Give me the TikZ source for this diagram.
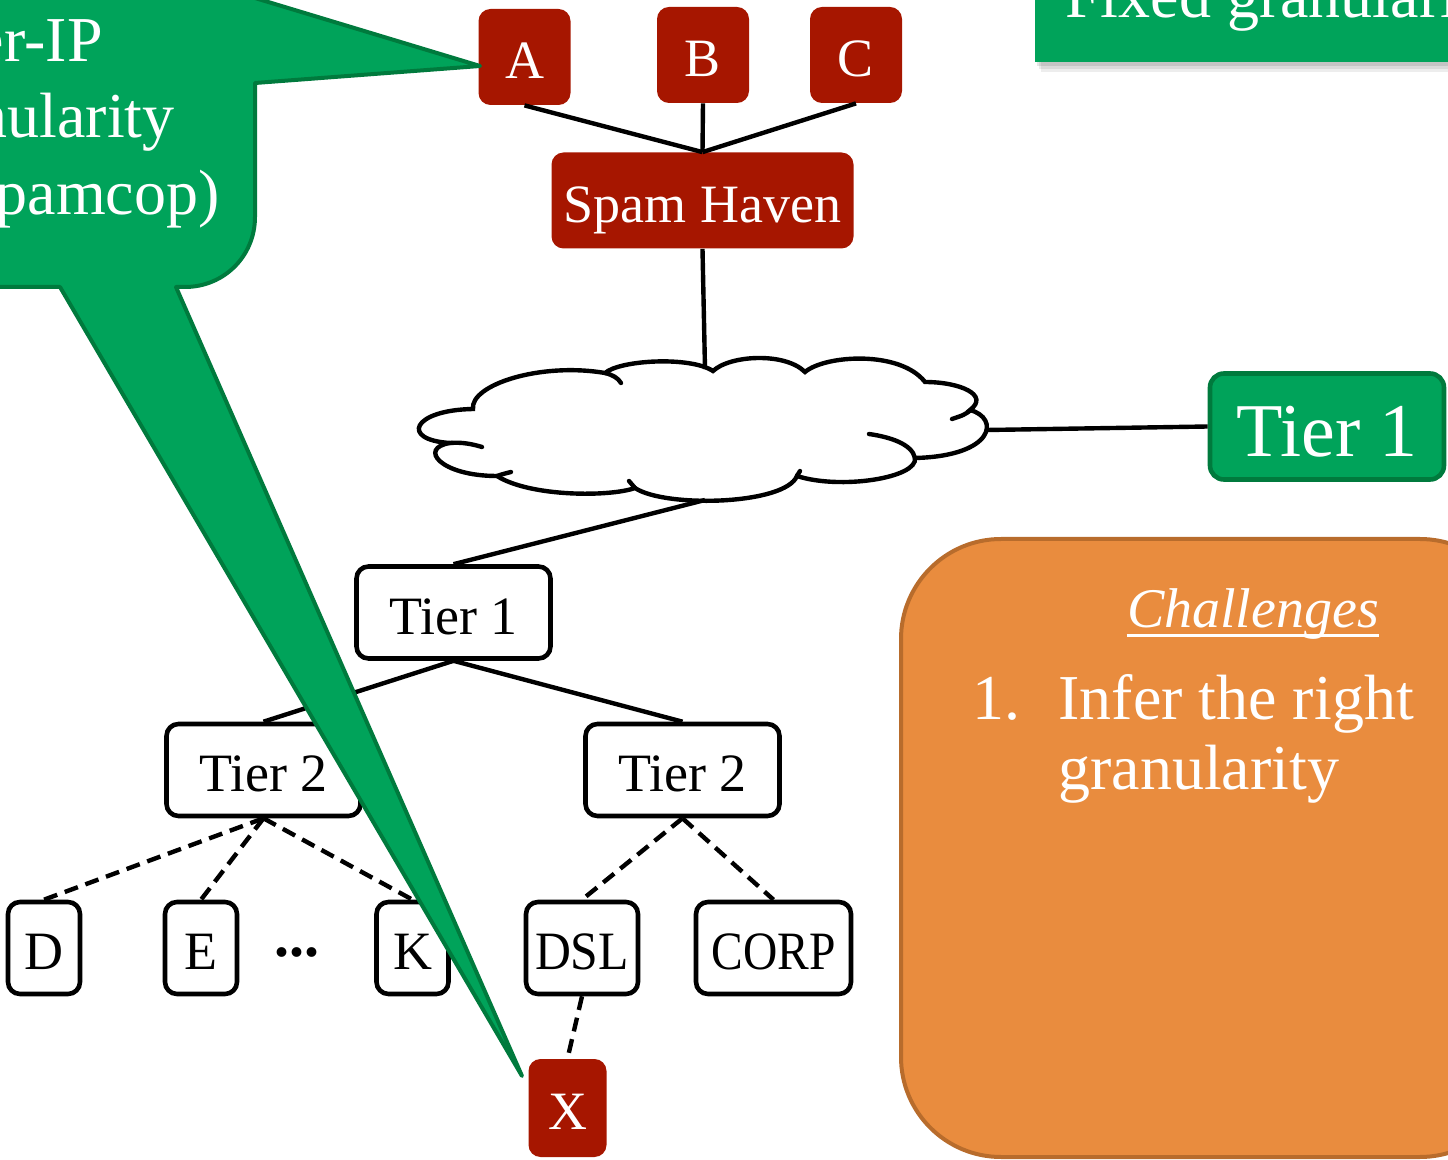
\documentclass[tikz,border=0pt]{standalone}
\usepackage{fontspec}
\usepackage{graphicx}
\setmainfont{Liberation Serif}
\definecolor{myred}{HTML}{A61600}
\definecolor{mygreen}{HTML}{00A35A}
\definecolor{mygreenD}{HTML}{007A3D}
\definecolor{myorange}{HTML}{E98C3E}
\definecolor{myorangeD}{HTML}{B86C2C}
\begin{document}
\begin{tikzpicture}[x=0.5pt,y=-0.5pt,
 redbox/.style={fill=myred,text=white,rounded corners=6pt,inner sep=0pt,font=\fontsize{27}{30}\selectfont,text height=21.6pt,text depth=0pt},
 wbox/.style={draw=black,line width=2.3pt,fill=white,rounded corners=6pt,inner sep=0pt,font=\fontsize{27}{30}\selectfont,text height=21.6pt,text depth=0pt},
 gbox/.style={fill=mygreen,draw=mygreenD,line width=2.3pt,text=white,rounded corners=7pt,inner sep=0pt,font=\fontsize{38}{40}\selectfont,text height=30pt,text depth=0pt},
 link/.style={line width=2.2pt,black},
 dlink/.style={line width=2.2pt,black,dash pattern=on 7pt off 4pt},
 cloudline/.style={line width=2.2pt,black,line cap=round},
 callout/.style={fill=mygreen,draw=mygreenD,line width=2pt,line join=round},
 wtext/.style={text=white,inner sep=0pt,font=\fontsize{32}{36}\selectfont},
]
\useasboundingbox (0,0) rectangle (1448,1160);
\clip (0,0) rectangle (1448,1160);

% orange challenges box
\draw[fill=myorange,draw=myorangeD,line width=2pt,rounded corners=50pt] (901,539) rectangle (1520,1157);
\node[inner sep=0pt,anchor=base,text=white,font=\fontsize{28}{30}\selectfont\itshape] (chal) at (1253,628) {Challenges};
\draw[white,line width=1.5pt] ([yshift=-4pt]chal.base west) -- ([yshift=-4pt]chal.base east);
\node[wtext,anchor=base west] (num) at (972,720) {1.};
\node[wtext,anchor=base west] (l1) at (1058,720) {Infer the right};
\node[wtext,anchor=base west] (l2) at (1058,790) {granularity};

% top-right green box with shadow
\fill[black,opacity=0.07] (1041,-60) rectangle (1500,72);
\fill[black,opacity=0.08] (1039,-60) rectangle (1500,69);
\fill[black,opacity=0.10] (1037,-60) rectangle (1500,66);
\fill[mygreen] (1035,-60) rectangle (1500,62);
\node[wtext,anchor=base west] (fg) at (1065,18) {Fixed granularity};

% cloud
\draw[cloudline,fill=white] (473,409)
 .. controls (470,385) and (540,362) .. (605,373)
 .. controls (620,360) and (690,356) .. (713,371)
 .. controls (730,355) and (785,352) .. (805,372)
 .. controls (825,355) and (900,350) .. (925,382)
 .. controls (960,382) and (990,395) .. (970,410)
 .. controls (1000,418) and (995,456) .. (915,458)
 .. controls (918,478) and (840,490) .. (797,476)
 .. controls (785,505) and (665,508) .. (635,488)
 .. controls (610,497) and (530,497) .. (497,476)
 .. controls (440,476) and (418,448) .. (450,443)
 .. controls (400,440) and (412,410) .. (473,409) -- cycle;
\draw[cloudline] (605,373) .. controls (613,375) and (618,378) .. (621,383);
\draw[cloudline] (450,443) .. controls (462,442) and (472,444) .. (482,447);
\draw[cloudline] (497,476) .. controls (503,474) .. (511,472);
\draw[cloudline] (635,488) .. controls (632,485) .. (629,481);
\draw[cloudline] (797,476) .. controls (798,474) .. (800,471);
\draw[cloudline] (915,458) .. controls (912,444) and (890,437) .. (869,434);
\draw[cloudline] (971,410) .. controls (964,415) .. (952,419);
\coordinate (cloudN) at (705,369);
\coordinate (cloudE) at (987,430);
\coordinate (cloudS) at (705,500);

% nodes
\node[redbox,minimum width=46pt,minimum height=48pt] (A) at (524.5,57) {A};
\node[redbox,minimum width=46pt,minimum height=48pt] (B) at (703,55) {B};
\node[redbox,minimum width=46pt,minimum height=48pt] (C) at (856,55) {C};
\node[redbox,minimum width=151pt,minimum height=48pt] (sh) at (702.5,200.5) {Spam Haven};
\node[gbox,minimum width=117pt,minimum height=53pt] (t1g) at (1327,426.5) {Tier 1};
\node[wbox,minimum width=97pt,minimum height=46pt] (t1w) at (453.5,612.5) {Tier 1};
\node[wbox,minimum width=97pt,minimum height=46pt] (t2l) at (263.5,770) {Tier 2};
\node[wbox,minimum width=97pt,minimum height=46pt] (t2r) at (682.5,770) {Tier 2};
\node[wbox,minimum width=36pt,minimum height=46pt] (D) at (44,948) {D};
\node[wbox,minimum width=36pt,minimum height=46pt] (E) at (201,948) {E};
\node[wbox,minimum width=36pt,minimum height=46pt] (K) at (412.5,948) {K};
\node[wbox,minimum width=56pt,minimum height=46pt] (DSL) at (582,948) {\scalebox{0.92}[1]{DSL}};
\node[wbox,minimum width=77.5pt,minimum height=46pt] (CORP) at (773.5,948) {\scalebox{0.88}[1]{CORP}};
\node[inner sep=0pt,font=\fontsize{30}{32}\selectfont\bfseries] (dots) at (297,952) {...};
\node[redbox,minimum width=39pt,minimum height=49pt] (X) at (567.5,1108) {X};

% connectors
\draw[link] (A.south) -- (sh.north);
\draw[link] (B.south) -- (sh.north);
\draw[link] (C.south) -- (sh.north);
\draw[link] (sh.south) -- (cloudN);
\draw[link] (cloudE) -- (t1g.west);
\draw[link] (cloudS) -- (t1w.north);
\draw[link] (t1w.south) -- (t2l.north);
\draw[link] (t1w.south) -- (t2r.north);
\draw[dlink] (t2l.south) -- (D.north);
\draw[dlink] (t2l.south) -- (E.north);
\draw[dlink] (t2l.south) -- (K.north);
\draw[dlink] (t2r.south) -- (DSL.north);
\draw[dlink] (t2r.south) -- (CORP.north);
\draw[dlink] (DSL.south) -- (X.north);

% callout
\draw[callout] (255,-60) -- (255,-2) -- (480,66) -- (255,83) -- (255,217)
 .. controls (255,256) and (224,287) .. (185,287) -- (176,287) -- (522,1076) -- (60,287)
 -- (-60,287) -- (-60,-60) -- cycle;
\node[wtext,anchor=base east] (c1) at (103,62) {Per-IP};
\node[wtext,anchor=base east] (c2) at (175,138) {granularity};
\node[wtext,anchor=base east] (c3) at (220,215) {(spamcop)};
\end{tikzpicture}
\end{document}
